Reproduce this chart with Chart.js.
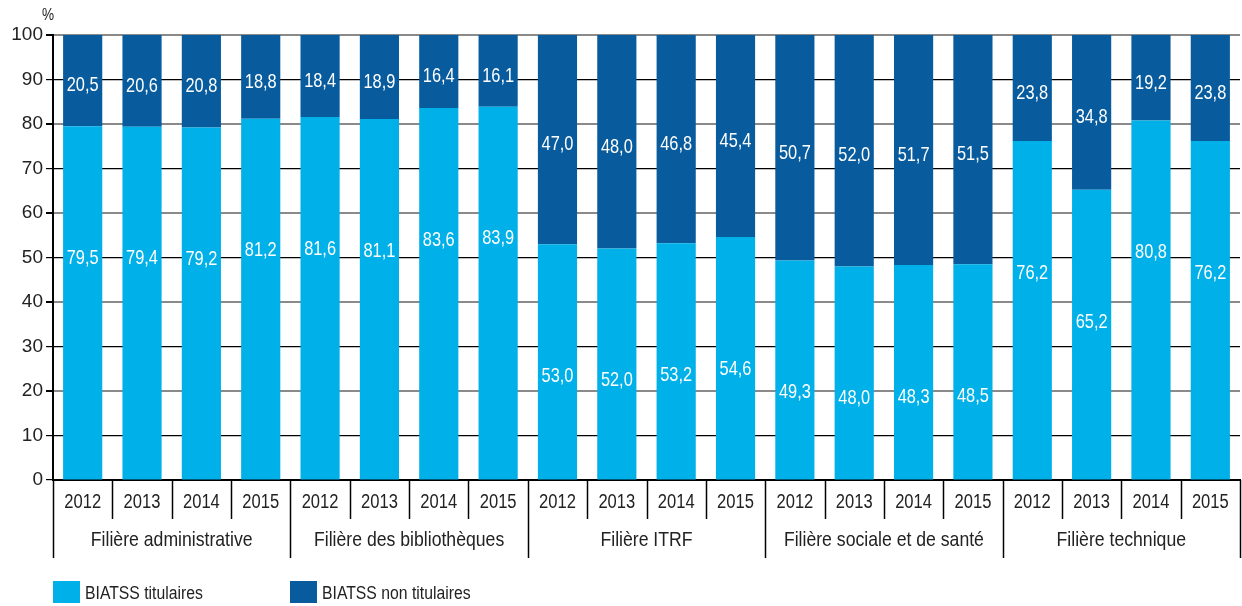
<!DOCTYPE html>
<html><head><meta charset="utf-8">
<script src="https://cdn.jsdelivr.net/npm/chart.js@4/dist/chart.umd.min.js"></script>
<style>
html,body{margin:0;padding:0;background:#fff;}
#wrap{position:relative;width:1242px;height:606px;}
</style></head>
<body><div id="wrap"><canvas id="c" width="1242" height="606"></canvas></div>
<script>
const groups = ["Filière administrative","Filière des bibliothèques","Filière ITRF","Filière sociale et de santé","Filière technique"];
const years = ["2012","2013","2014","2015"];
const titulaires = [79.5,79.4,79.2,81.2, 81.6,81.1,83.6,83.9, 53.0,52.0,53.2,54.6, 49.3,48.0,48.3,48.5, 76.2,65.2,80.8,76.2];
const nonTitulaires = [20.5,20.6,20.8,18.8, 18.4,18.9,16.4,16.1, 47.0,48.0,46.8,45.4, 50.7,52.0,51.7,51.5, 23.8,34.8,19.2,23.8];
const yTicks = [0,10,20,30,40,50,60,70,80,90,100];
const seriesNames = ["BIATSS titulaires","BIATSS non titulaires"];

const FONT = '"Liberation Sans","Arimo",Arial,sans-serif';
const labels = [];
groups.forEach(g => years.forEach(y => labels.push(y)));

const fmt = v => v.toFixed(1).replace('.', ',');

// draw horizontally condensed text
function cText(ctx, text, x, y, size, sx, align) {
  ctx.save();
  ctx.font = size + 'px ' + FONT;
  ctx.textAlign = align || 'center';
  ctx.textBaseline = 'middle';
  ctx.translate(x, y);
  ctx.scale(sx, 1);
  ctx.fillText(text, 0, 0);
  ctx.restore();
}

const tierPlugin = {
  id: 'tier',
  afterDraw(chart) {
    const ctx = chart.ctx, xs = chart.scales.x;
    const bottom = chart.chartArea.bottom;
    const n = labels.length;
    const step = (xs.right - xs.left) / n;
    ctx.save();
    // data labels
    ctx.fillStyle = '#fff';
    chart.data.datasets.forEach((ds, di) => {
      const meta = chart.getDatasetMeta(di);
      meta.data.forEach((bar, i) => {
        // lower series: label anchored below the top of the segment; upper: centred
        const cy = di === 0 ? bar.y + 132 : (bar.y + bar.base) / 2 + 5;
        cText(ctx, fmt(ds.data[i]), bar.x, cy, 21, 0.78);
      });
    });
    // separators
    ctx.strokeStyle = '#000';
    ctx.lineWidth = 1.5;
    for (let i = 0; i <= n; i++) {
      const x = Math.round(xs.left + i * step) + 0.5;
      const isGroup = i % years.length === 0;
      ctx.beginPath();
      ctx.moveTo(x, bottom);
      ctx.lineTo(x, bottom + (isGroup ? 78 : 39));
      ctx.stroke();
    }
    // year labels
    ctx.fillStyle = '#222';
    labels.forEach((l, i) => {
      cText(ctx, l, xs.getPixelForValue(i), bottom + 23, 19.5, 0.85);
    });
    // group labels
    groups.forEach((g, gi) => {
      const x = xs.left + (gi * years.length + years.length / 2) * step;
      cText(ctx, g, x, bottom + 60, 21, 0.84);
    });
    // % label
    cText(ctx, '%', 42, 16, 16, 0.85, 'left');
    // legend
    const colors = chart.data.datasets.map(d => d.backgroundColor);
    const lx = [53, 290];
    seriesNames.forEach((s, i) => {
      ctx.fillStyle = colors[i];
      ctx.fillRect(lx[i], 581, 27, 22);
      ctx.fillStyle = '#222';
      cText(ctx, s, lx[i] + 32, 594, 17.5, 0.9, 'left');
    });
    ctx.restore();
  }
};

new Chart(document.getElementById('c'), {
  type: 'bar',
  data: {
    labels: labels,
    datasets: [
      { label: seriesNames[0], data: titulaires, backgroundColor: '#00b0e8', barPercentage: 0.66, categoryPercentage: 1 },
      { label: seriesNames[1], data: nonTitulaires, backgroundColor: '#085c9e', barPercentage: 0.66, categoryPercentage: 1 }
    ]
  },
  options: {
    responsive: false,
    animation: false,
    devicePixelRatio: 1,
    layout: { padding: { top: 35, right: 2, left: 0, bottom: 0 } },
    plugins: { legend: { display: false }, tooltip: { enabled: false } },
    scales: {
      x: {
        stacked: true,
        grid: { display: false },
        ticks: { display: false },
        border: { display: true, color: '#000', width: 2 },
        afterFit(s) { s.height = 126; }
      },
      y: {
        stacked: true,
        min: 0, max: 100,
        afterBuildTicks(s) { s.ticks = yTicks.map(v => ({ value: v })); },
        ticks: {
          color: '#222',
          font: { family: FONT, size: 19 },
          padding: 3
        },
        grid: {
          drawTicks: true,
          tickLength: 7,
          color: c => (c.tick && c.tick.value % 20 === 0 && c.tick.value !== 0) ? '#8a8a8a' : '#000',
          tickColor: '#000',
          lineWidth: c => (c.tick && c.tick.value % 20 === 0 && c.tick.value !== 0) ? 2 : 1.2
        },
        border: { display: true, color: '#000', width: 2 },
        afterFit(s) { s.width = 53; }
      }
    }
  },
  plugins: [tierPlugin]
});
</script></body></html>
